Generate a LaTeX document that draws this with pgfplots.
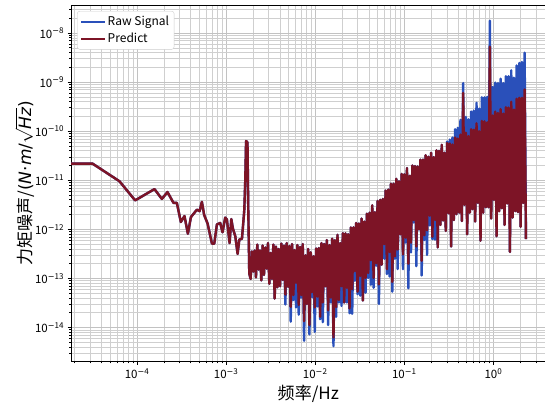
\documentclass[border=0pt]{standalone}
\usepackage{fontspec}
\setmainfont{DejaVu Sans}
\newfontfamily\cjk{Noto Sans CJK SC}
\usepackage{pgfplots}
\usepackage{pgfplotstable}
\pgfplotsset{compat=1.18}
\definecolor{rawblue}{RGB}{42,80,186}
\definecolor{predred}{RGB}{125,20,38}

% lx = log10(frequency / Hz), raw / pred = log10(torque noise)
\pgfplotstableread{
lx raw pred
-4.850 -10.66 -10.66
-4.500 -10.66 -10.66
-4.197 -11.02 -11.02
-4.021 -11.41 -11.41
-3.804 -11.18 -11.18
-3.721 -11.38 -11.38
-3.658 -11.24 -11.24
-3.591 -11.46 -11.46
-3.553 -11.46 -11.46
-3.508 -11.85 -11.85
-3.467 -11.73 -11.73
-3.429 -12.09 -12.09
-3.395 -11.75 -11.75
-3.328 -11.60 -11.60
-3.298 -11.63 -11.63
-3.272 -11.44 -11.44
-3.246 -11.71 -11.71
-3.208 -11.88 -11.88
-3.159 -12.29 -12.29
-3.133 -12.29 -12.29
-3.103 -11.90 -11.90
-3.066 -11.87 -11.87
-3.040 -12.06 -12.06
-3.010 -11.76 -11.76
-2.991 -11.80 -11.80
-2.961 -12.28 -12.28
-2.942 -11.79 -11.79
-2.923 -11.99 -11.99
-2.897 -12.14 -12.14
-2.871 -12.50 -12.50
-2.852 -12.21 -12.21
-2.822 -12.19 -12.19
-2.796 -11.61 -11.61
-2.785 -11.00 -11.00
-2.776 -10.20 -10.20
-2.760 -10.23 -10.23
-2.752 -11.50 -11.50
-2.740 -12.90 -12.90
-2.725 -13.01 -13.01
-2.710 -12.45 -12.45
-2.695 -12.86 -12.86
-2.680 -12.43 -12.43
-2.665 -12.98 -12.98
-2.650 -12.31 -12.31
-2.635 -12.82 -12.82
-2.620 -12.43 -12.43
-2.605 -13.04 -13.04
-2.590 -12.33 -12.33
-2.575 -12.93 -12.93
-2.560 -12.37 -12.37
-2.545 -12.80 -12.80
-2.530 -12.28 -12.28
-2.515 -13.11 -13.11
-2.500 -12.48 -12.48
-2.485 -13.01 -13.01
-2.470 -12.31 -12.31
-2.455 -13.41 -13.41
-2.440 -12.35 -12.35
-2.425 -13.18 -13.18
-2.410 -12.40 -12.40
-2.395 -13.16 -13.16
-2.380 -12.29 -12.29
-2.365 -13.03 -13.03
-2.350 -12.33 -12.33
-2.335 -13.53 -13.33
-2.320 -12.28 -12.28
-2.305 -13.17 -13.17
-2.290 -12.34 -12.34
-2.275 -13.88 -13.58
-2.260 -12.30 -12.30
-2.245 -13.44 -13.34
-2.230 -12.42 -12.42
-2.215 -13.59 -13.09
-2.200 -12.32 -12.32
-2.185 -13.74 -13.54
-2.170 -12.36 -12.36
-2.155 -13.39 -13.34
-2.140 -12.30 -12.30
-2.125 -14.27 -13.87
-2.110 -12.53 -12.53
-2.095 -13.52 -13.52
-2.080 -12.40 -12.40
-2.065 -14.14 -13.95
-2.050 -12.47 -12.47
-2.035 -13.38 -13.28
-2.020 -12.55 -12.55
-2.005 -14.09 -13.59
-1.990 -12.39 -12.39
-1.975 -13.57 -13.37
-1.960 -12.38 -12.38
-1.945 -13.83 -13.78
-1.930 -12.28 -12.28
-1.915 -13.89 -13.49
-1.900 -12.30 -12.30
-1.885 -13.16 -13.16
-1.870 -12.22 -12.22
-1.855 -13.95 -13.65
-1.840 -12.32 -12.32
-1.825 -13.49 -13.39
-1.810 -12.19 -12.19
-1.795 -14.38 -14.20
-1.780 -12.22 -12.22
-1.765 -13.78 -13.58
-1.750 -12.11 -12.11
-1.735 -13.49 -13.44
-1.720 -12.28 -12.28
-1.705 -13.56 -13.16
-1.690 -12.08 -12.08
-1.675 -13.49 -13.49
-1.660 -12.08 -12.08
-1.645 -13.49 -13.19
-1.630 -12.10 -12.10
-1.615 -13.71 -13.61
-1.600 -11.96 -11.96
-1.585 -13.72 -13.22
-1.570 -11.96 -11.96
-1.555 -13.05 -12.85
-1.540 -11.87 -11.87
-1.525 -13.32 -13.27
-1.510 -11.88 -11.88
-1.495 -13.35 -12.95
-1.480 -11.78 -11.78
-1.465 -13.45 -13.45
-1.450 -11.84 -11.84
-1.435 -13.29 -12.99
-1.420 -11.68 -11.68
-1.405 -12.99 -12.89
-1.390 -11.66 -11.66
-1.375 -13.13 -12.63
-1.360 -11.51 -11.51
-1.345 -13.19 -12.99
-1.330 -11.65 -11.65
-1.315 -12.74 -12.69
-1.300 -11.42 -11.42
-1.285 -13.52 -13.12
-1.270 -11.40 -11.40
-1.255 -12.72 -12.72
-1.240 -11.38 -11.38
-1.225 -12.60 -12.30
-1.210 -11.21 -11.21
-1.195 -12.91 -12.81
-1.180 -11.19 -11.19
-1.165 -12.96 -12.46
-1.150 -11.07 -11.07
-1.135 -13.27 -13.07
-1.120 -11.07 -11.07
-1.105 -12.60 -12.55
-1.090 -10.97 -10.97
-1.075 -12.81 -12.41
-1.060 -11.02 -11.02
-1.045 -12.10 -12.10
-1.030 -10.87 -10.87
-1.015 -12.81 -12.51
-1.000 -10.88 -10.88
-0.985 -12.27 -12.17
-0.970 -10.75 -10.75
-0.955 -13.20 -12.70
-0.940 -10.91 -10.91
-0.925 -12.47 -12.27
-0.910 -10.70 -10.70
-0.895 -11.86 -11.81
-0.880 -10.71 -10.71
-0.865 -12.75 -12.35
-0.850 -10.72 -10.72
-0.835 -12.00 -12.00
-0.820 -10.58 -10.58
-0.805 -12.94 -12.64
-0.790 -10.58 -10.58
-0.775 -12.22 -12.12
-0.760 -10.49 -10.49
-0.745 -12.52 -12.02
-0.730 -10.52 -10.52
-0.715 -11.92 -11.72
-0.700 -10.44 -10.44
-0.685 -12.20 -12.15
-0.670 -10.53 -10.53
-0.655 -12.21 -11.81
-0.640 -10.39 -10.39
-0.625 -12.37 -12.37
-0.610 -10.40 -10.40
-0.595 -11.91 -11.91
-0.580 -10.28 -10.28
-0.565 -11.82 -11.82
-0.550 -10.44 -10.44
-0.535 -12.03 -12.03
-0.520 -10.21 -10.24
-0.505 -11.67 -11.67
-0.490 -10.17 -10.25
-0.475 -12.35 -12.35
-0.460 -10.13 -10.27
-0.445 -11.81 -11.81
-0.430 -9.96 -10.13
-0.415 -11.69 -11.69
-0.400 -9.93 -10.15
-0.385 -11.66 -11.66
-0.370 -9.77 -10.07
-0.355 -11.83 -11.83
-0.340 -9.02 -9.22
-0.325 -11.50 -11.50
-0.310 -9.71 -10.03
-0.295 -12.10 -12.10
-0.280 -9.76 -10.10
-0.265 -11.66 -11.66
-0.250 -9.60 -9.96
-0.235 -11.59 -11.59
-0.220 -9.58 -9.97
-0.205 -11.84 -11.84
-0.190 -9.42 -9.84
-0.175 -11.46 -11.46
-0.160 -9.54 -10.00
-0.145 -12.23 -12.23
-0.130 -9.31 -9.79
-0.115 -11.66 -11.66
-0.100 -9.31 -9.80
-0.085 -11.55 -11.55
-0.070 -9.30 -9.82
-0.055 -11.55 -11.55
-0.040 -7.75 -8.28
-0.025 -11.78 -11.78
-0.010 -9.10 -9.68
0.005 -11.40 -11.40
0.020 -9.01 -9.60
0.035 -12.14 -12.14
0.050 -9.02 -9.63
0.065 -11.63 -11.63
0.080 -8.93 -9.55
0.095 -11.57 -11.57
0.110 -9.02 -9.64
0.125 -11.91 -11.91
0.140 -8.88 -9.51
0.155 -11.47 -11.47
0.170 -8.88 -9.52
0.185 -12.46 -12.46
0.200 -8.76 -9.40
0.215 -11.76 -11.76
0.230 -8.91 -9.56
0.245 -11.63 -11.63
0.260 -8.66 -9.34
0.275 -11.65 -11.65
0.290 -8.61 -9.32
0.305 -11.95 -11.95
0.320 -8.59 -9.32
0.335 -11.46 -11.46
0.350 -8.40 -9.15
0.365 -12.20 -12.20
}\datatable

\begin{document}
\begin{tikzpicture}
\begin{loglogaxis}[
  scale only axis,
  width=474pt, height=356pt,
  xmin=1.82e-5, xmax=3.85,
  ymin=2.04e-15, ymax=3.72e-8,
  grid=both,
  major grid style={draw=black!24, line width=0.55pt},
  minor grid style={draw=black!19, line width=0.5pt},
  axis line style={black, line width=0.8pt},
  tick align=outside, tick pos=left,
  major tick length=3.5pt, minor tick length=2pt,
  tick style={black, line width=0.6pt},
  ticklabel style={font=\cjk\fontsize{11.5}{13}\selectfont},
  log number format basis/.code 2 args={\pgfmathtruncatemacro\myexp{#2}10\textsuperscript{\ifnum\myexp<0 {\rmfamily −}\number\numexpr-\myexp\relax\else\myexp\fi}},
  xlabel={\cjk 频率/Hz},
  xlabel style={at={(axis description cs:0.5,-0.0899)}, anchor=center, font=\fontsize{17}{20}\selectfont},
  ylabel={{\cjk 力矩噪声/}(\textit{N}·\textit{m}/$\sqrt{\mbox{\itshape Hz}}$)},
  ylabel style={at={(axis description cs:-0.098,0.5)}, anchor=center, inner sep=0pt, font=\fontsize{17}{20}\selectfont},
  legend style={at={(axis description cs:0,1)}, anchor=north west, xshift=6pt, yshift=-6pt,
    draw=black!20, rounded corners=2.5pt, fill=white,
    font=\cjk\fontsize{12}{14}\selectfont, inner xsep=3pt, inner ysep=3pt, row sep=2pt,
    cells={anchor=west}},
  legend image code/.code={\draw[#1, line width=2.4pt] (0pt,0pt) -- (23pt,0pt);},
]
\addplot[rawblue, line width=2.4pt, line join=round] table[x expr={pow(10,\thisrow{lx})}, y expr={pow(10,\thisrow{raw})}] {\datatable};
\addlegendentry{Raw Signal}
\addplot[predred, line width=2.4pt, line join=round] table[x expr={pow(10,\thisrow{lx})}, y expr={pow(10,\thisrow{pred})}] {\datatable};
\addlegendentry{Predict}
\end{loglogaxis}
\pgfresetboundingbox
\path[use as bounding box] ([xshift=-71pt,yshift=-44pt]current axis.south west) rectangle ([xshift=-0.6pt,yshift=5pt]current axis.north east);
\end{tikzpicture}
\end{document}
